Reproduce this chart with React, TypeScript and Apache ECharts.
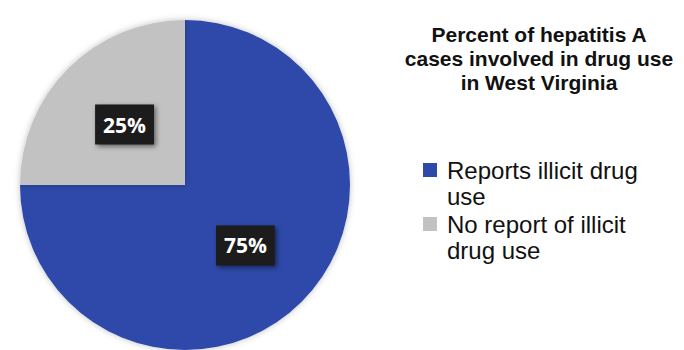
import React, { useEffect, useRef } from "react";
import * as echarts from "echarts";

const categories = ["Reports illicit drug use", "No report of illicit drug use"];
const legendLabels = ["Reports illicit drug\nuse", "No report of illicit\ndrug use"];
const values = [75, 25];
const colors = ["#2d49a9", "#c2c2c2"];
const titleText = "Percent of hepatitis A\ncases involved in drug use\nin West Virginia";

export default function App() {
  const ref = useRef<HTMLDivElement>(null);
  useEffect(() => {
    document.body.style.margin = "0";
    const chart = echarts.init(ref.current!, null, { renderer: "svg" });
    chart.setOption({
      animation: false,
      backgroundColor: "#ffffff",
      title: {
        text: titleText,
        left: 539,
        top: 22,
        padding: 0,
        textAlign: "center",
        textStyle: {
          fontFamily: "Liberation Sans, Arial, sans-serif",
          fontWeight: "bold",
          fontSize: 21,
          lineHeight: 24,
          color: "#111111",
        },
      },
      legend: {
        orient: "vertical",
        left: 423,
        top: 131,
        padding: 0,
        itemWidth: 14,
        itemHeight: 14,
        itemGap: -24,
        icon: "rect",
        data: categories,
        formatter: (name: string) => "\n" + legendLabels[categories.indexOf(name)],
        textStyle: {
          fontFamily: "Liberation Sans, Arial, sans-serif",
          fontSize: 24,
          lineHeight: 26,
          color: "#111111",
          padding: [0, 0, 0, 5],
        },
      },
      series: [
        {
          type: "pie",
          center: [185, 185],
          radius: 165,
          startAngle: 90,
          clockwise: true,
          silent: true,
          itemStyle: {
            shadowBlur: 6,
            shadowColor: "rgba(0,0,0,0.25)",
          },
          label: {
            show: true,
            position: "inside",
            formatter: "{c}%",
            color: "#ffffff",
            fontFamily: "Open Sans, sans-serif",
            fontWeight: "bold",
            fontSize: 21,
            lineHeight: 22,
            backgroundColor: "#1c1c1c",
            padding: [9, 8, 9, 8],
            shadowBlur: 5,
            shadowColor: "rgba(0,0,0,0.5)",
            shadowOffsetX: 2,
            shadowOffsetY: 2,
          },
          labelLine: { show: false },
          data: categories.map((name, i) => ({
            name,
            value: values[i],
            itemStyle: { color: colors[i] },
          })),
        },
      ],
    });
    return () => chart.dispose();
  }, []);
  return (
    <div
      ref={ref}
      style={{ position: "absolute", left: 0, top: 0, width: 684, height: 350 }}
    />
  );
}
